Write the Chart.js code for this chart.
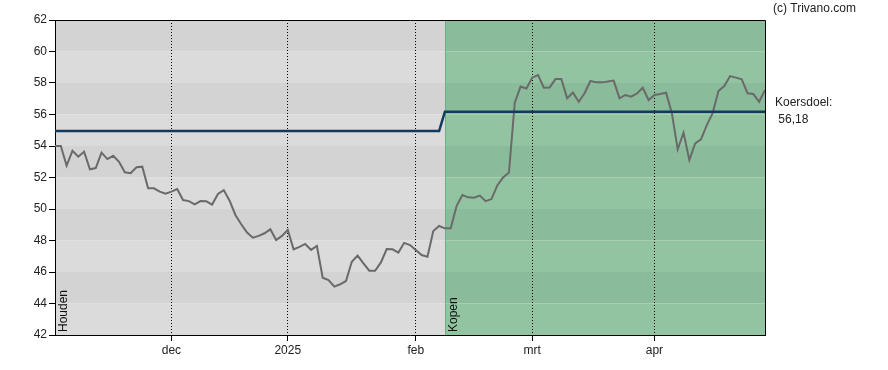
<!DOCTYPE html>
<html>
<head>
<meta charset="utf-8">
<script src="https://cdn.jsdelivr.net/npm/chart.js@4/dist/chart.umd.min.js"></script>
<style>
  html, body { margin: 0; padding: 0; background: #fff; }
  canvas { display: block; }
</style>
</head>
<body>
<canvas id="c" width="888" height="370"></canvas>
<script>
// ---- data ----
const startDate = '2024-11-04';
const holidays = ['2024-12-25', '2024-12-26', '2025-01-01', '2025-04-18', '2025-04-21'];
const monthNames = ['jan', 'feb', 'mrt', 'apr', 'mei', 'jun', 'jul', 'aug', 'sep', 'okt', 'nov', 'dec'];
const prices = [
  54.0, 54.0, 52.75, 53.7, 53.32, 53.64, 52.52, 52.6, 53.58, 53.17,
  53.38, 53.0, 52.33, 52.27, 52.65, 52.69, 51.31, 51.31, 51.1, 50.97,
  51.1, 51.27, 50.57, 50.5, 50.3, 50.5, 50.49, 50.28, 50.95, 51.2,
  50.53, 49.62, 49.03, 48.5, 48.18, 48.29, 48.46, 48.71, 48.03, 48.29,
  48.67, 47.44, 47.6, 47.78, 47.4, 47.65, 45.64, 45.49, 45.07, 45.22,
  45.43, 46.65, 47.04, 46.55, 46.08, 46.08, 46.61, 47.46, 47.44, 47.23,
  47.85, 47.71, 47.4, 47.08, 46.97, 48.6, 48.92, 48.77, 48.77, 50.19,
  50.89, 50.74, 50.72, 50.85, 50.5, 50.63, 51.5, 52.0, 52.31, 56.75,
  57.77, 57.65, 58.34, 58.51, 57.7, 57.72, 58.25, 58.25, 57.03, 57.39,
  56.81, 57.35, 58.13, 58.04, 58.04, 58.09, 58.15, 57.03, 57.24, 57.13,
  57.33, 57.7, 56.92, 57.24, 57.3, 57.38, 56.08, 53.79, 54.85, 53.11,
  54.17, 54.42, 55.33, 56.08, 57.49, 57.81, 58.44, 58.34, 58.23, 57.35,
  57.3, 56.81, 57.56
];
const targetOld = 54.95;
const targetNew = 56.18;
const adviceChangeIndex = 67;          // first trading day with "Kopen"
const adviceLabels = ['Houden', 'Kopen'];
const yTicks = [42, 44, 46, 48, 50, 52, 54, 56, 58, 60, 62];

// ---- derived categories (trading dates) ----
function tradingDates(start, n) {
  const out = [];
  const d = new Date(start + 'T00:00:00Z');
  while (out.length < n) {
    const iso = d.toISOString().slice(0, 10);
    const wd = d.getUTCDay();
    if (wd !== 0 && wd !== 6 && !holidays.includes(iso)) out.push(iso);
    d.setUTCDate(d.getUTCDate() + 1);
  }
  return out;
}
const dates = tradingDates(startDate, prices.length);
const monthTicks = [];
dates.forEach((iso, i) => {
  if (i === 0) return;
  const m = +iso.slice(5, 7), pm = +dates[i - 1].slice(5, 7);
  if (m !== pm) monthTicks.push({ index: i, label: m === 1 ? iso.slice(0, 4) : monthNames[m - 1] });
});
const targets = prices.map((_, i) => i < adviceChangeIndex ? targetOld : targetNew);

Chart.defaults.font.family = '"Liberation Sans", Arial, sans-serif';
Chart.defaults.font.size = 12;
Chart.defaults.color = '#222';

const bgPlugin = {
  id: 'bg',
  beforeDraw(chart) {
    const { ctx, chartArea: a, scales: { x, y } } = chart;
    const xs = x.getPixelForValue(adviceChangeIndex);
    ctx.save();
    for (let k = 0; k < yTicks.length - 1; k++) {
      const lo = yTicks[k], hi = yTicks[k + 1];
      const top = y.getPixelForValue(hi), bot = y.getPixelForValue(lo);
      const dark = k % 2 === 1;
      ctx.fillStyle = dark ? '#d3d3d3' : '#dbdbdb';
      ctx.fillRect(a.left, top, xs - a.left, bot - top);
      ctx.fillStyle = dark ? '#8abb9a' : '#92c4a2';
      ctx.fillRect(xs, top, a.right - xs, bot - top);
    }
    ctx.strokeStyle = '#6fae86';
    ctx.lineWidth = 1;
    ctx.beginPath();
    ctx.moveTo(Math.round(xs) + 0.5, a.top);
    ctx.lineTo(Math.round(xs) + 0.5, a.bottom);
    ctx.stroke();
    ctx.restore();
  },
  afterDraw(chart) {
    const { ctx, chartArea: a, scales: { x, y } } = chart;
    ctx.save();
    ctx.strokeStyle = '#000';
    ctx.lineWidth = 1;
    ctx.beginPath();
    ctx.moveTo(a.left, a.top + 0.5);
    ctx.lineTo(a.right + 0.5, a.top + 0.5);
    ctx.lineTo(a.right + 0.5, a.bottom);
    ctx.stroke();

    ctx.fillStyle = '#111';
    ctx.font = '12px "Liberation Sans", Arial, sans-serif';
    // advice labels (vertical)
    const starts = [0, adviceChangeIndex];
    starts.forEach((idx, k) => {
      const px = x.getPixelForValue(idx) + 9;
      ctx.save();
      ctx.translate(px, a.bottom - 3);
      ctx.rotate(-Math.PI / 2);
      ctx.textAlign = 'left';
      ctx.textBaseline = 'middle';
      ctx.fillText(adviceLabels[k], 0, 0);
      ctx.restore();
    });
    // copyright
    ctx.fillStyle = '#222';
    ctx.textAlign = 'left';
    ctx.textBaseline = 'middle';
    ctx.fillText('(c) Trivano.com', a.right + 8, 9);
    // target label
    const ty = y.getPixelForValue(targets[targets.length - 1]);
    ctx.fillText('Koersdoel:', a.right + 10, ty - 9);
    ctx.fillText(' ' + targets[targets.length - 1].toFixed(2).replace('.', ','), a.right + 10, ty + 8);
    ctx.restore();
  }
};

new Chart(document.getElementById('c'), {
  type: 'line',
  data: {
    datasets: [
      {
        label: 'Koersdoel',
        data: targets.map((v, i) => ({ x: i, y: v })),
        borderColor: '#113a5c',
        borderWidth: 2.5,
        pointRadius: 0,
        tension: 0
      },
      {
        label: 'Koers',
        data: prices.map((v, i) => ({ x: i, y: v })),
        borderColor: '#6a6a6a',
        borderWidth: 2,
        pointRadius: 0,
        tension: 0
      }
    ]
  },
  options: {
    responsive: false,
    animation: false,
    layout: { padding: { top: 20, right: 123, left: 0, bottom: 0 } },
    plugins: { legend: { display: false }, tooltip: { enabled: false } },
    scales: {
      x: {
        type: 'linear',
        min: 0,
        max: prices.length - 1,
        afterBuildTicks: s => { s.ticks = monthTicks.map(t => ({ value: t.index })); },
        afterFit: s => { s.height = 35; },
        ticks: {
          autoSkip: false,
          maxRotation: 0,
          padding: 2,
          color: '#222',
          callback: v => { const t = monthTicks.find(m => m.index === v); return t ? t.label : ''; }
        },
        grid: {
          color: '#000',
          lineWidth: 1,
          drawOnChartArea: true,
          drawTicks: true,
          tickLength: 6,
          tickColor: '#000',
          tickBorderDash: []
        },
        border: { display: true, color: '#000', width: 1, dash: [1, 2] }
      },
      y: {
        min: 42,
        max: 62,
        afterBuildTicks: s => { s.ticks = yTicks.map(v => ({ value: v })); },
        afterFit: s => { s.width = 55; },
        ticks: { padding: 2, color: '#222' },
        grid: {
          drawOnChartArea: false,
          drawTicks: true,
          tickLength: 6,
          tickColor: '#000'
        },
        border: { display: true, color: '#000', width: 1 }
      }
    }
  },
  plugins: [bgPlugin]
});
</script>
</body>
</html>
